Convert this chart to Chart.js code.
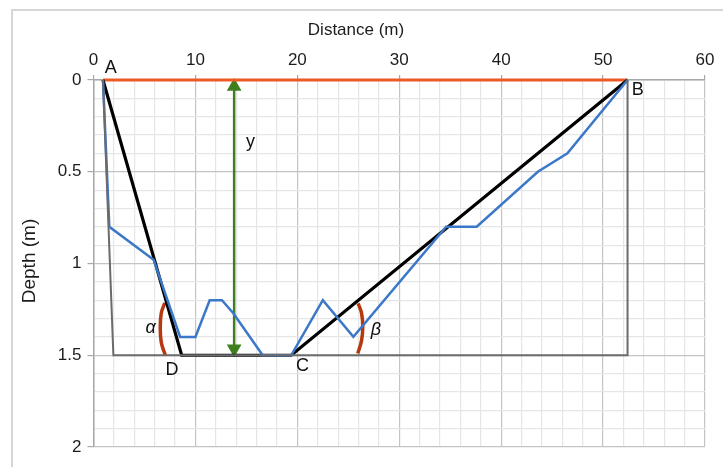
<!DOCTYPE html>
<html>
<head>
<meta charset="utf-8">
<script src="https://cdn.jsdelivr.net/npm/chart.js@4"></script>
<style>
  html, body { margin: 0; padding: 0; background: #fff; }
  #wrap { position: relative; width: 723px; height: 467px; }
</style>
</head>
<body>
<div id="wrap"><canvas id="chart" width="723" height="467"></canvas></div>
<script>
'use strict';

// channel profile (blue)
const profileX = [0.93, 1.55, 5.9, 8.5, 10, 11.4, 12.6, 13.7, 16.6, 19.4, 22.5, 25.5, 34.6, 37.6, 43.6, 46.5, 52.4];
const profileY = [0, 0.8, 0.98, 1.4, 1.4, 1.2, 1.2, 1.27, 1.5, 1.5, 1.2, 1.4, 0.8, 0.8, 0.5, 0.4, 0];

// simplified trapezoid A-D-C-B (black)
const trapX = [0.93, 8.65, 19.4, 52.4];
const trapY = [0, 1.5, 1.5, 0];

// outer box (gray)
const boxX = [0.93, 1.95, 52.4, 52.4];
const boxY = [0, 1.5, 1.5, 0];

// water surface A-B (orange)
const surfaceX = [0.93, 52.4];
const surfaceY = [0, 0];

// depth arrow y (green)
const arrowX = [13.8, 13.8];
const arrowY = [0.035, 1.465];

// angle arcs
const alphaX = [7.0, 6.65, 6.55, 6.65, 7.05];
const alphaY = [1.215, 1.27, 1.35, 1.43, 1.5];
const betaX = [25.96, 26.3, 26.42, 26.3, 25.93];
const betaY = [1.217, 1.27, 1.345, 1.42, 1.49];

// text annotations
const noteText = ['A', 'B', 'C', 'D', 'y', 'α', 'β'];
const noteX = [1.7, 53.4, 20.5, 7.7, 15.4, 5.6, 27.7];
const noteY = [-0.065, 0.055, 1.56, 1.58, 0.34, 1.35, 1.36];
const noteItalic = [false, false, false, false, false, true, true];

const toPoints = (xs, ys) => xs.map((x, i) => ({ x, y: ys[i] }));

const MAJOR = '#c4c4c4';
const MINOR = '#e6e6e6';
const FONT = "'Liberation Sans', Arial, sans-serif";

const frame = {
  id: 'frame',
  beforeDraw: (chart) => {
    const c = chart.ctx;
    c.save();
    c.fillStyle = '#fff';
    c.fillRect(0, 0, chart.width, chart.height);
    c.strokeStyle = '#d6d6d6';
    c.lineWidth = 2;
    c.strokeRect(12, 10, 760, 500);
    c.restore();
  },
};

// axis titles and point labels
const notes = {
  id: 'notes',
  afterDatasetsDraw: (chart) => {
    const c = chart.ctx;
    const xs = chart.scales.x;
    const ys = chart.scales.y;
    c.save();
    c.fillStyle = '#1c1c1c';
    c.textAlign = 'center';
    c.textBaseline = 'middle';
    c.font = `17px ${FONT}`;
    c.fillText('Distance (m)', 356, 30);
    c.save();
    c.translate(30, 261);
    c.rotate(-Math.PI / 2);
    c.font = `19px ${FONT}`;
    c.fillText('Depth (m)', 0, 0);
    c.restore();
    c.fillStyle = '#111';
    noteText.forEach((t, i) => {
      c.font = `${noteItalic[i] ? 'italic ' : ''}18px ${FONT}`;
      c.fillText(t, xs.getPixelForValue(noteX[i]), ys.getPixelForValue(noteY[i]));
    });
    c.restore();
  },
};

const line = (data, color, width, extra = {}) => ({
  data,
  showLine: true,
  borderColor: color,
  backgroundColor: color,
  borderWidth: width,
  pointRadius: 0,
  tension: 0,
  clip: false,
  ...extra,
});

new Chart(document.querySelector('#chart'), {
  type: 'scatter',
  data: {
    datasets: [
      line(toPoints(boxX, boxY), '#6b6b6b', 2),
      line(toPoints(profileX, profileY), '#3b78c8', 2.5),
      line(toPoints(trapX, trapY), '#000', 3.2),
      line(toPoints(surfaceX, surfaceY), '#ee5a24', 3),
      line(toPoints(arrowX, arrowY), '#3f7f1f', 2.5, {
        pointRadius: 6,
        pointStyle: 'triangle',
        rotation: [0, 180],
      }),
      line(toPoints(alphaX, alphaY), '#b5380f', 3.5, { tension: 0.4 }),
      line(toPoints(betaX, betaY), '#b5380f', 3.5, { tension: 0.4 }),
    ],
  },
  plugins: [frame, notes],
  options: {
    responsive: false,
    animation: false,
    events: [],
    layout: { padding: { left: 0, top: 0, right: 18, bottom: 20 } },
    plugins: {
      legend: { display: false },
      tooltip: { enabled: false },
    },
    scales: {
      x: {
        type: 'linear',
        position: 'top',
        min: 0,
        max: 60,
        afterFit: (s) => { s.height = 80; },
        border: { color: '#a8a8a8', width: 1.5 },
        grid: {
          color: (ctx) => (ctx.tick && ctx.tick.value % 10 === 0 ? MAJOR : MINOR),
          tickColor: (ctx) => (ctx.tick && ctx.tick.value % 10 === 0 ? '#a8a8a8' : 'rgba(0,0,0,0)'),
          lineWidth: 1.2,
          tickLength: 5,
        },
        ticks: {
          stepSize: 2,
          autoSkip: false,
          maxRotation: 0,
          padding: 4,
          color: '#1c1c1c',
          font: { family: FONT, size: 17 },
          callback: (v) => (v % 10 === 0 ? v : ''),
        },
      },
      y: {
        type: 'linear',
        reverse: true,
        min: 0,
        max: 2,
        afterFit: (s) => { s.width = 93.5; },
        border: { color: '#a8a8a8', width: 1.5 },
        grid: {
          color: (ctx) => (ctx.tick && Math.round(ctx.tick.value * 10) % 5 === 0 ? MAJOR : MINOR),
          tickColor: (ctx) => (ctx.tick && Math.round(ctx.tick.value * 10) % 5 === 0 ? '#a8a8a8' : 'rgba(0,0,0,0)'),
          lineWidth: 1.2,
          tickLength: 6,
        },
        ticks: {
          stepSize: 0.1,
          autoSkip: false,
          padding: 6,
          color: '#1c1c1c',
          font: { family: FONT, size: 17 },
          callback: (v) => (Math.round(v * 10) % 5 === 0 ? String(Math.round(v * 10) / 10) : ''),
        },
      },
    },
  },
});
</script>
</body>
</html>
